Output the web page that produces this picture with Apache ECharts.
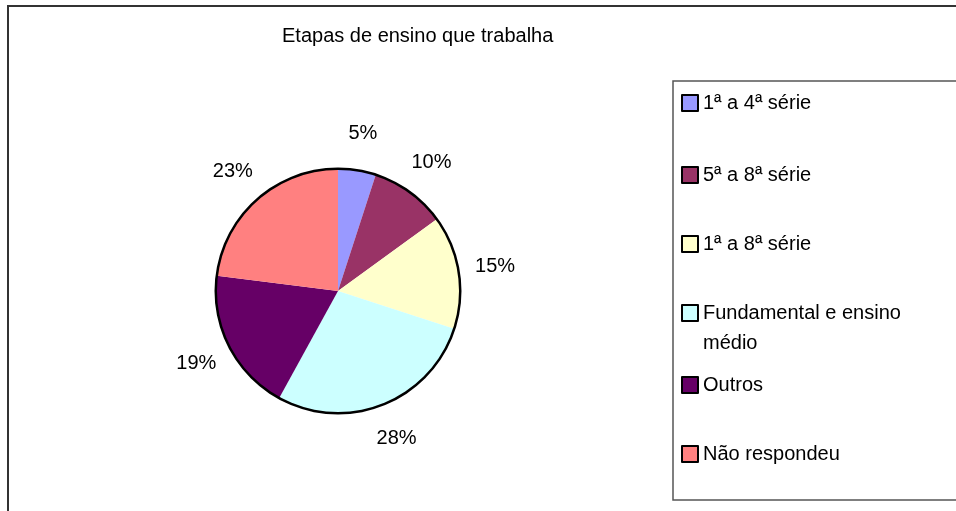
<!DOCTYPE html>
<html>
<head>
<meta charset="utf-8">
<script src="https://cdn.jsdelivr.net/npm/echarts@6/dist/echarts.min.js"></script>
<style>
html,body{margin:0;padding:0;background:#fff;}
#c{width:956px;height:511px;}
</style>
</head>
<body>
<div id="c"></div>
<script>
var titleText = 'Etapas de ensino que trabalha';
var categories = ['1ª a 4ª série', '5ª a 8ª série', '1ª a 8ª série', 'Fundamental e ensino médio', 'Outros', 'Não respondeu'];
var values = [5, 10, 15, 28, 19, 23];
var colors = ['#9999FF', '#993366', '#FFFFCC', '#CCFFFF', '#660066', '#FF8080'];

var FONT = 'Liberation Sans, Arial, sans-serif';
var cx = 338, cy = 291, R = 122;

var data = categories.map(function (n, i) {
  return { name: n, value: values[i], itemStyle: { color: colors[i] } };
});

var legendTops = [93, 165, 234, 268, 375, 444];
var legends = categories.map(function (n, i) {
  var multi = (n === 'Fundamental e ensino médio');
  return {
    data: [n],
    orient: 'vertical',
    left: 681,
    top: legendTops[i],
    padding: 0,
    icon: 'rect',
    itemWidth: 16,
    itemHeight: 16,
    selectedMode: false,
    itemStyle: { borderColor: '#000', borderWidth: 2 },
    formatter: multi ? function (name) { return ' \nFundamental e ensino\nmédio'; } : undefined,
    textStyle: multi ? {
      fontFamily: FONT, fontSize: 20, color: '#000', lineHeight: 30
    } : { fontFamily: FONT, fontSize: 20, color: '#000' }
  };
});

var chart = echarts.init(document.getElementById('c'), null, { renderer: 'canvas' });
chart.setOption({
  animation: false,
  backgroundColor: '#fff',
  title: {
    text: titleText,
    left: 282,
    top: 26,
    padding: 0,
    textStyle: { fontFamily: FONT, fontSize: 20, fontWeight: 'normal', color: '#000' }
  },
  legend: legends,
  graphic: [
    { type: 'rect', shape: { x: 8, y: 6, width: 1000, height: 600 }, style: { fill: 'none', stroke: '#333', lineWidth: 2 }, silent: true, z: -1 },
    { type: 'rect', shape: { x: 673, y: 81, width: 400, height: 419 }, style: { fill: 'none', stroke: '#555', lineWidth: 1.5 }, silent: true, z: -1 }
  ],
  series: [
    {
      type: 'pie',
      center: [cx, cy],
      radius: R,
      startAngle: 90,
      clockwise: true,
      silent: true,
      data: data,
      label: { show: false },
      labelLine: { show: false },
      emphasis: { disabled: true }
    },
    {
      type: 'pie',
      center: [cx, cy],
      radius: [R - 1, R + 1.5],
      silent: true,
      data: [{ value: 1, name: '__ring', itemStyle: { color: '#000' } }],
      label: { show: false },
      labelLine: { show: false },
      emphasis: { disabled: true },
      legendHoverLink: false
    },
    {
      type: 'pie',
      center: [cx, cy],
      radius: [140, 172],
      startAngle: 90,
      clockwise: true,
      silent: true,
      data: categories.map(function (n, i) {
        return { name: n, value: values[i], itemStyle: { color: 'rgba(0,0,0,0)' } };
      }),
      label: {
        show: true, position: 'inside', formatter: '{c}%',
        fontFamily: FONT, fontSize: 20, color: '#000'
      },
      labelLine: { show: false },
      emphasis: { disabled: true }
    }
  ]
});
</script>
</body>
</html>
